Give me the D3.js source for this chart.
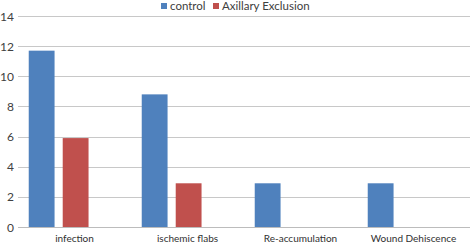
<!DOCTYPE html>
<html>
<head>
<meta charset="utf-8">
<script src="https://cdn.jsdelivr.net/npm/d3@7"></script>
<style>
  body { margin: 0; background: #fff; }
  text { font-family: Lato, "Liberation Sans", sans-serif; }
</style>
</head>
<body>
<div id="chart"></div>
<script>
// chart data
const categories = ["infection", "ischemic flabs", "Re-accumulation", "Wound Dehiscence"];
const seriesNames = ["control", "Axillary Exclusion"];
const controlValues = [11.7, 8.8, 2.9, 2.9];
const axillaryValues = [5.9, 2.9, 0, 0];
const yTicks = [0, 2, 4, 6, 8, 10, 12, 14];
const seriesColors = ["#4f81bd", "#c0504d"];

const width = 472, height = 244;
const margin = { top: 16, right: 2, bottom: 17, left: 18 };
const chartWidth = width - margin.left - margin.right;
const chartHeight = height - margin.top - margin.bottom;

const svg = d3.select("#chart")
    .append("svg")
    .attr("width", width)
    .attr("height", height);

const g = svg.append("g")
    .attr("transform", `translate(${margin.left},${margin.top})`);

const x0 = d3.scaleBand()
    .domain(categories)
    .range([0, chartWidth])
    .paddingInner(0)
    .paddingOuter(0);

// three slots per group, third one is empty (as in the source chart)
const x1 = d3.scaleBand()
    .domain([0, 1, 2])
    .range([x0.bandwidth() * 0.095, x0.bandwidth() * 0.925])
    .paddingInner(0.24);

const y = d3.scaleLinear()
    .domain([0, 14])
    .range([chartHeight, 0]);

// gridlines
g.append("g")
    .selectAll("line")
    .data(yTicks.filter(d => d > 0))
    .enter()
    .append("line")
    .attr("x1", 0)
    .attr("x2", chartWidth)
    .attr("y1", d => Math.round(y(d)) + 0.5)
    .attr("y2", d => Math.round(y(d)) + 0.5)
    .attr("stroke", "#c8c8c8")
    .attr("stroke-width", 1.2);

// y tick labels
g.append("g")
    .selectAll("text")
    .data(yTicks)
    .enter()
    .append("text")
    .attr("x", -4)
    .attr("y", d => y(d) + 4.5)
    .attr("text-anchor", "end")
    .attr("fill", "#404040")
    .style("font-size", "12px")
    .text(d => d);

// bars
const rows = categories.map((c, i) => ({ cat: c, values: [controlValues[i], axillaryValues[i]] }));

const groups = g.selectAll(".grp")
    .data(rows)
    .enter()
    .append("g")
    .attr("transform", d => `translate(${x0(d.cat)},0)`);

groups.selectAll("rect")
    .data(d => d.values.map((v, k) => ({ k, v })).filter(e => e.v > 0))
    .enter()
    .append("rect")
    .attr("x", d => x1(d.k))
    .attr("width", x1.bandwidth())
    .attr("y", d => y(d.v))
    .attr("height", d => chartHeight - y(d.v))
    .attr("fill", d => seriesColors[d.k]);

// baseline
g.append("line")
    .attr("x1", 0)
    .attr("x2", chartWidth)
    .attr("y1", Math.round(chartHeight) + 0.5)
    .attr("y2", Math.round(chartHeight) + 0.5)
    .attr("stroke", "#bcbcbc")
    .attr("stroke-width", 1.2);

// category labels
g.append("g")
    .selectAll("text")
    .data(categories)
    .enter()
    .append("text")
    .attr("x", d => x0(d) + x0.bandwidth() / 2)
    .attr("y", chartHeight + 15)
    .attr("text-anchor", "middle")
    .attr("fill", "#303030")
    .style("font-size", "10px")
    .text(d => d);

// legend
const legend = svg.append("g").attr("transform", "translate(161,0)");
const legendX = [0, 52];
seriesNames.forEach((name, i) => {
    legend.append("rect")
        .attr("x", legendX[i])
        .attr("y", 3)
        .attr("width", 6)
        .attr("height", 6)
        .attr("fill", seriesColors[i]);
    legend.append("text")
        .attr("x", legendX[i] + 9)
        .attr("y", 10)
        .attr("fill", "#404040")
        .style("font-size", "11.5px")
        .text(name);
});
</script>
</body>
</html>
